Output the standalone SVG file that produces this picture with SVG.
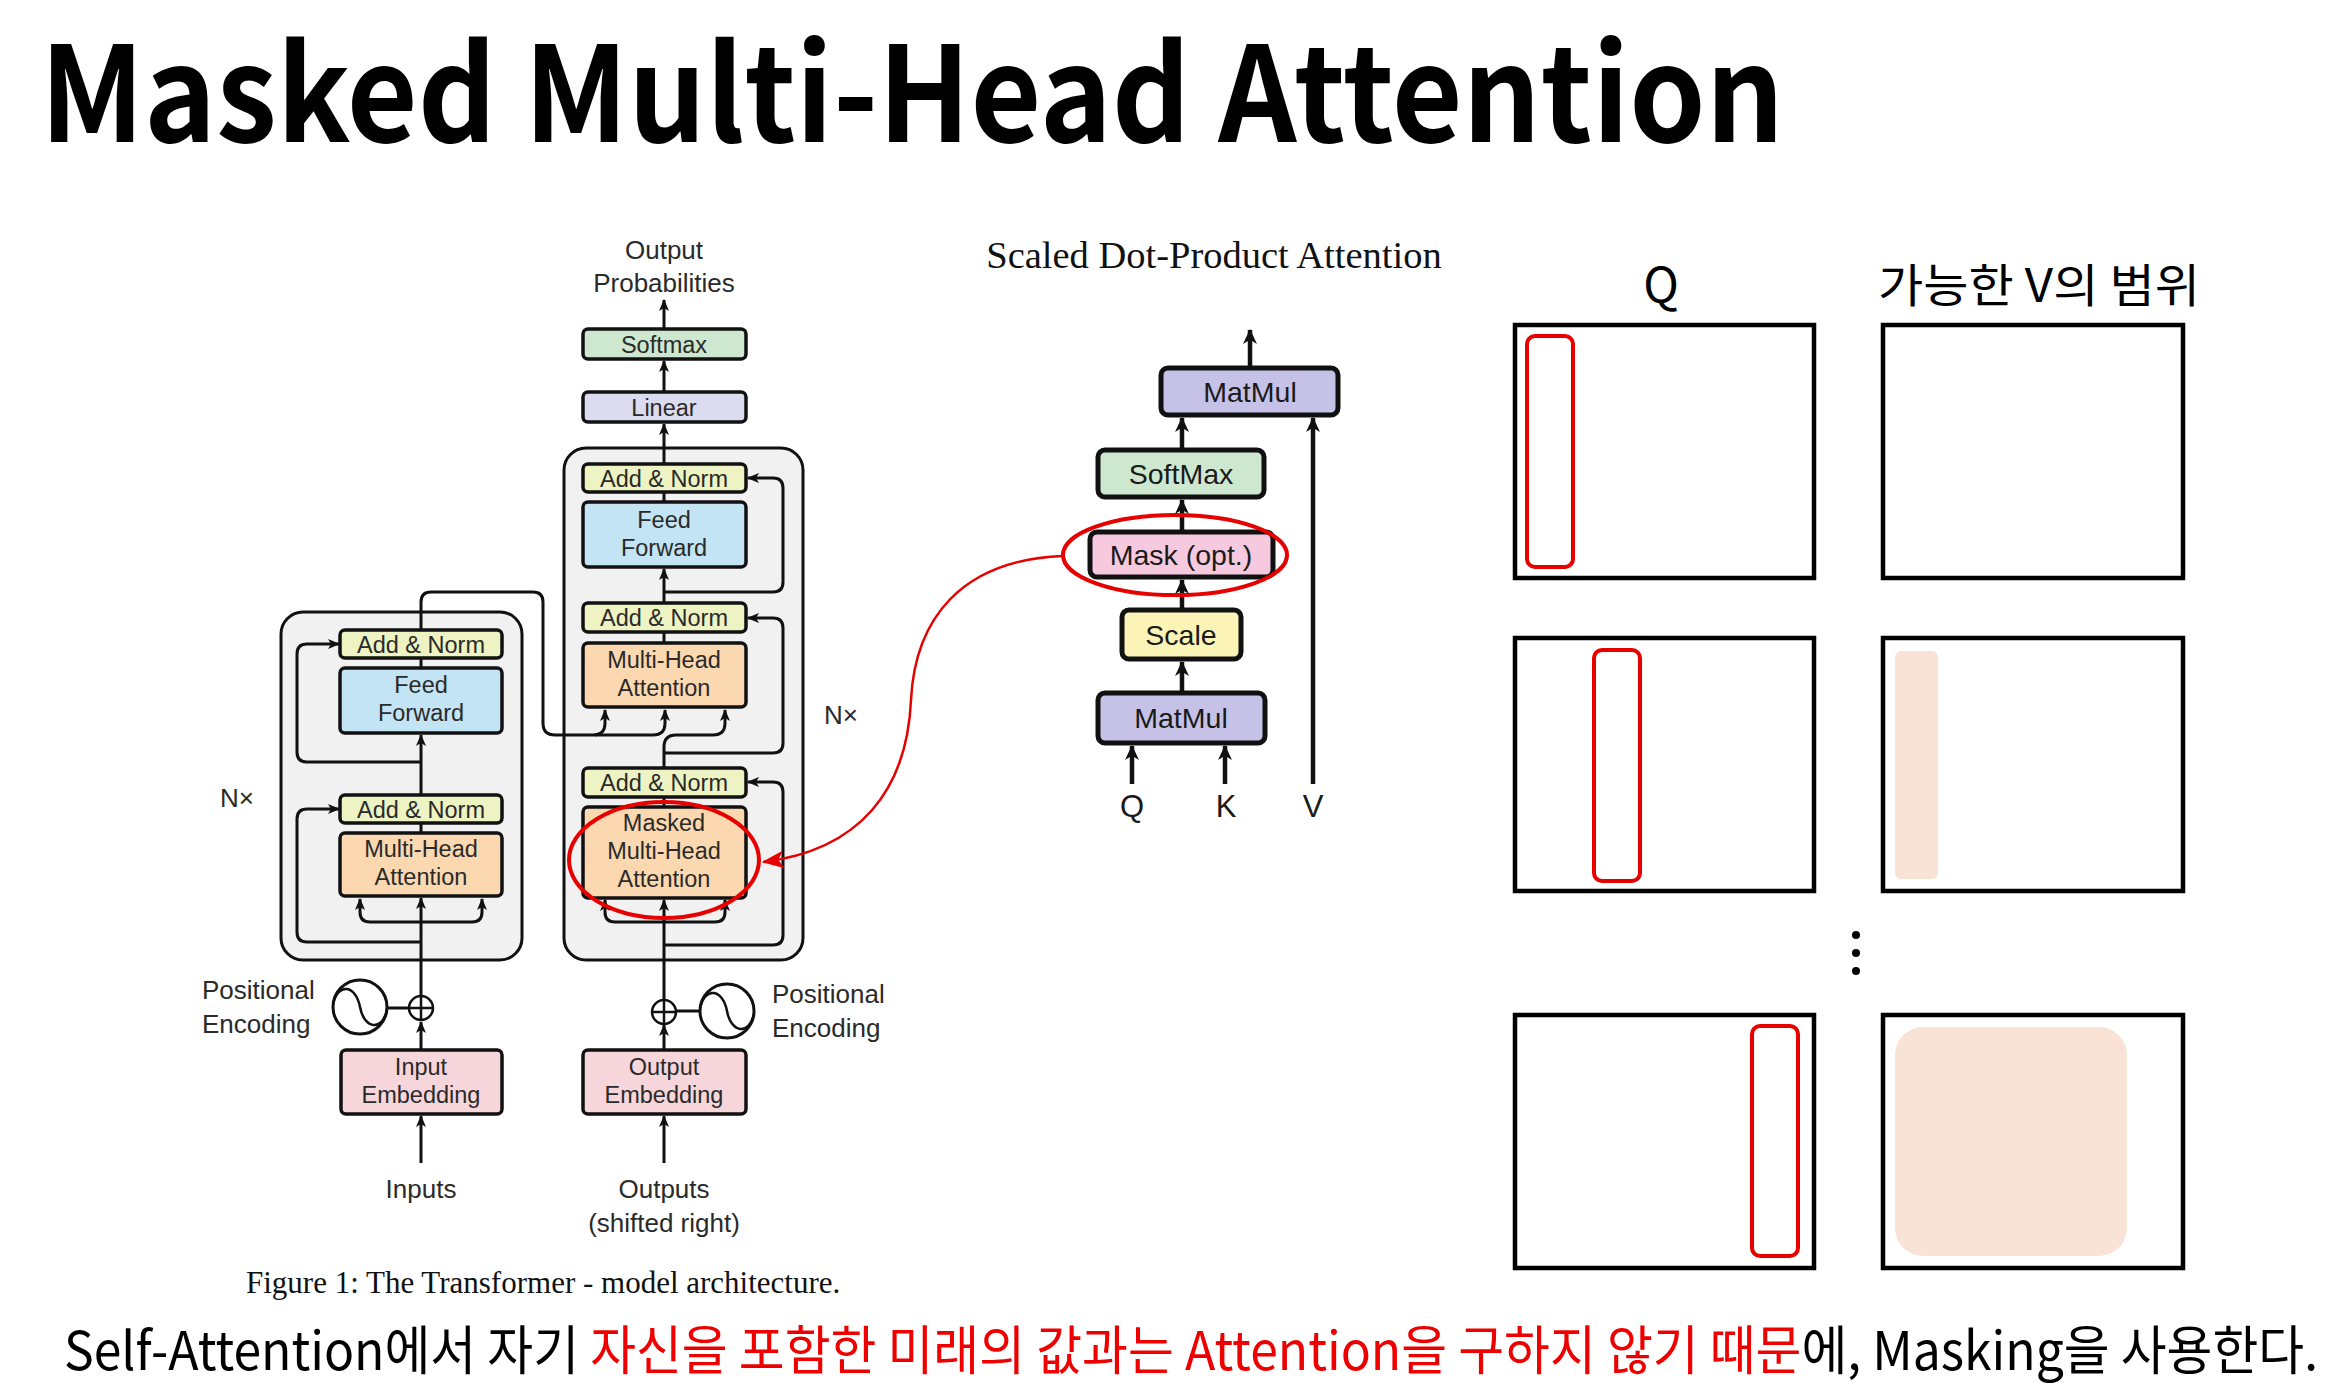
<svg xmlns="http://www.w3.org/2000/svg" width="2345" height="1385" viewBox="0 0 2345 1385">
  <defs>
    <marker id="ah" viewBox="0 0 12 10" refX="11" refY="5" markerWidth="12" markerHeight="10" markerUnits="userSpaceOnUse" orient="auto-start-reverse">
      <path d="M0,0 L12,5 L0,10 L3,5 Z" fill="#111"/>
    </marker>
    <marker id="ahb" viewBox="0 0 14 13" refX="13" refY="6.5" markerWidth="15" markerHeight="14" markerUnits="userSpaceOnUse" orient="auto-start-reverse">
      <path d="M0,0 L14,6.5 L0,13 L4,6.5 Z" fill="#111"/>
    </marker>
    <marker id="ahr" viewBox="0 0 20 16" refX="19" refY="8" markerWidth="22" markerHeight="18" markerUnits="userSpaceOnUse" orient="auto">
      <path d="M0,0 L20,8 L0,16 L5,8 Z" fill="#e60000"/>
    </marker>
  </defs>
  <style>
    .stack{fill:#f1f1f1;stroke:#111;stroke-width:3}
    .box{stroke:#111;stroke-width:3.5}
    .bbox{stroke:#111;stroke-width:5}
    .an{fill:#eef3c3}
    .ff{fill:#c3e4f4}
    .mha{fill:#fbd8b0}
    .emb{fill:#f7d6db}
    .lin{fill:#dcdcf0}
    .smx{fill:#cde8cf}
    .mm{fill:#c6c1e6}
    .mask{fill:#f6c9de}
    .scl{fill:#fbf4b6}
    .t{font-family:"Liberation Sans",Arial,Helvetica,sans-serif;font-size:23.5px;fill:#2a2a2a;text-anchor:middle}
    .lbl{font-family:"Liberation Sans",Arial,Helvetica,sans-serif;font-size:26px;fill:#2a2a2a}
    .qkv{font-family:"Liberation Sans",Arial,Helvetica,sans-serif;font-size:31px;fill:#1a1a1a;text-anchor:middle}
    .mid{text-anchor:middle}
    .bt{font-family:"Liberation Sans",Arial,Helvetica,sans-serif;font-size:28.5px;fill:#1a1a1a;text-anchor:middle}
    .serif{font-family:"Liberation Serif","Times New Roman",serif;fill:#111}
    .kr{font-family:"Noto Sans CJK KR","Noto Sans",sans-serif;fill:#000}
    .wire{fill:none;stroke:#111;stroke-width:3}
    .wireb{fill:none;stroke:#111;stroke-width:4.5}
    .arr{marker-end:url(#ah)}
    .arr2{marker-start:url(#ah);marker-end:url(#ah)}
    .arrb{marker-end:url(#ahb)}
    .grid{fill:#fff;stroke:#000;stroke-width:4.5}
    .sel{fill:none;stroke:#e60000;stroke-width:4}
    .range{fill:#f9e3d6}
    .red{fill:none;stroke:#e60000;stroke-width:4}
  </style>

  <rect width="2345" height="1385" fill="#fff"/>

  <!-- page title -->
  <text id="title" class="kr" x="40" y="142" font-size="132" font-weight="700" textLength="1744" lengthAdjust="spacingAndGlyphs">Masked Multi-Head Attention</text>

  <!-- encoder / decoder stacks -->
  <g id="encoder-stack"><rect class="stack" x="281" y="612" width="241" height="348" rx="22"/></g>
  <g id="decoder-stack"><rect class="stack" x="564" y="448" width="239" height="512" rx="22"/></g>

  <!-- connectors -->
  <g id="connectors">
    <!-- encoder -->
    <path class="wire arr" d="M421,1163 V1116"/>
    <path class="wire arr" d="M421,1050 V1022"/>
    <path class="wire arr" d="M421,996 V898"/>
    <path class="wire arr2" d="M360,899 V912 Q360,922 370,922 H472 Q482,922 482,912 V899"/>
    <path class="wire arr" d="M421,942 H307 Q297,942 297,932 V819 Q297,809 307,809 H339"/>
    <path class="wire" d="M421,833 V823"/>
    <path class="wire arr" d="M421,795 V735"/>
    <path class="wire arr" d="M421,762 H307 Q297,762 297,752 V654 Q297,644 307,644 H339"/>
    <path class="wire" d="M421,668 V658"/>
    <path class="wire arr" d="M421,630 V602 Q421,592 431,592 H533 Q543,592 543,602 V723 Q543,735 555,735 H593 Q605,735 605,723 V710"/>
    <path class="wire arr" d="M595,735 H653 Q665,735 665,723 V710"/>
    <path class="wire" d="M387,1008 H409"/>
    <!-- decoder -->
    <path class="wire arr" d="M664,1163 V1116"/>
    <path class="wire arr" d="M664,1050 V1025"/>
    <path class="wire arr" d="M664,999 V900"/>
    <path class="wire arr2" d="M605,900 V912 Q605,922 615,922 H715 Q725,922 725,912 V900"/>
    <path class="wire arr" d="M664,945 H773 Q783,945 783,935 V792 Q783,782 773,782 H748"/>
    <path class="wire" d="M664,807 V797"/>
    <path class="wire arr" d="M664,768 V747 Q664,735 676,735 H713 Q725,735 725,723 V710"/>
    <path class="wire arr" d="M664,753 H773 Q783,753 783,743 V628 Q783,618 773,618 H748"/>
    <path class="wire" d="M664,643 V632"/>
    <path class="wire arr" d="M664,603 V569"/>
    <path class="wire arr" d="M664,592 H773 Q783,592 783,582 V488 Q783,478 773,478 H748"/>
    <path class="wire" d="M664,502 V492"/>
    <path class="wire arr" d="M664,464 V424"/>
    <path class="wire arr" d="M664,392 V361"/>
    <path class="wire arr" d="M664,329 V300"/>
    <path class="wire" d="M676,1011 H700"/>
    <!-- scaled dot-product attention -->
    <path class="wireb arrb" d="M1250,368 V330"/>
    <path class="wireb arrb" d="M1182,450 V418"/>
    <path class="wireb arrb" d="M1182,532 V500"/>
    <path class="wireb arrb" d="M1182,610 V580"/>
    <path class="wireb arrb" d="M1182,693 V662"/>
    <path class="wireb arrb" d="M1132,784 V746"/>
    <path class="wireb arrb" d="M1225,784 V746"/>
    <path class="wireb arrb" d="M1313,784 V418"/>
  </g>

  <!-- encoder blocks -->
  <g id="enc-addnorm-2"><rect class="box an" x="340" y="630" width="162" height="28" rx="5"/><text class="t" x="421" y="652.5">Add &amp; Norm</text></g>
  <g id="enc-ffn"><rect class="box ff" x="340" y="668" width="162" height="65" rx="5"/><text class="t" x="421" y="693">Feed</text><text class="t" x="421" y="721">Forward</text></g>
  <g id="enc-addnorm-1"><rect class="box an" x="340" y="795" width="162" height="28" rx="5"/><text class="t" x="421" y="817.5">Add &amp; Norm</text></g>
  <g id="enc-mha"><rect class="box mha" x="340" y="833" width="162" height="63" rx="5"/><text class="t" x="421" y="857">Multi-Head</text><text class="t" x="421" y="885">Attention</text></g>
  <g id="enc-embedding"><rect class="box emb" x="341" y="1050" width="161" height="64" rx="5"/><text class="t" x="421" y="1075">Input</text><text class="t" x="421" y="1103">Embedding</text></g>
  <g id="enc-add"><circle cx="421" cy="1008" r="12" fill="#fff" stroke="#111" stroke-width="2.5"/><path d="M409,1008 H433 M421,996 V1020" stroke="#111" stroke-width="2.5"/></g>
  <g id="enc-posenc"><circle cx="360" cy="1007" r="27" fill="#fff" stroke="#111" stroke-width="3"/><path d="M333,1004 C338,982 356,985 360,1007 C364,1029 382,1032 387,1010" fill="none" stroke="#111" stroke-width="2.5"/></g>

  <!-- decoder blocks -->
  <g id="dec-addnorm-3"><rect class="box an" x="583" y="464" width="163" height="28" rx="5"/><text class="t" x="664" y="486.5">Add &amp; Norm</text></g>
  <g id="dec-ffn"><rect class="box ff" x="583" y="502" width="163" height="65" rx="5"/><text class="t" x="664" y="527.5">Feed</text><text class="t" x="664" y="555.5">Forward</text></g>
  <g id="dec-addnorm-2"><rect class="box an" x="583" y="603" width="163" height="29" rx="5"/><text class="t" x="664" y="626">Add &amp; Norm</text></g>
  <g id="dec-mha"><rect class="box mha" x="583" y="643" width="163" height="64" rx="5"/><text class="t" x="664" y="668">Multi-Head</text><text class="t" x="664" y="696">Attention</text></g>
  <g id="dec-addnorm-1"><rect class="box an" x="583" y="768" width="163" height="29" rx="5"/><text class="t" x="664" y="791">Add &amp; Norm</text></g>
  <g id="dec-masked-mha"><rect class="box mha" x="583" y="807" width="163" height="91" rx="5"/><text class="t" x="664" y="831">Masked</text><text class="t" x="664" y="859">Multi-Head</text><text class="t" x="664" y="887">Attention</text></g>
  <g id="dec-embedding"><rect class="box emb" x="583" y="1050" width="163" height="64" rx="5"/><text class="t" x="664" y="1075">Output</text><text class="t" x="664" y="1103">Embedding</text></g>
  <g id="dec-add"><circle cx="664" cy="1012" r="12" fill="#fff" stroke="#111" stroke-width="2.5"/><path d="M652,1012 H676 M664,1000 V1024" stroke="#111" stroke-width="2.5"/></g>
  <g id="dec-posenc"><circle cx="727" cy="1011" r="27" fill="#fff" stroke="#111" stroke-width="3"/><path d="M700,1008 C705,986 723,989 727,1011 C731,1033 749,1036 754,1014" fill="none" stroke="#111" stroke-width="2.5"/></g>
  <g id="linear"><rect class="box lin" x="583" y="392" width="163" height="30" rx="5"/><text class="t" x="664" y="415.5">Linear</text></g>
  <g id="softmax"><rect class="box smx" x="583" y="329" width="163" height="30" rx="5"/><text class="t" x="664" y="352.5">Softmax</text></g>

  <!-- figure labels -->
  <g id="labels">
    <text class="lbl mid" x="664" y="259">Output</text>
    <text class="lbl mid" x="664" y="292">Probabilities</text>
    <text class="lbl" x="220" y="807">N×</text>
    <text class="lbl" x="824" y="724">N×</text>
    <text class="lbl" x="202" y="999">Positional</text>
    <text class="lbl" x="202" y="1033">Encoding</text>
    <text class="lbl" x="772" y="1003">Positional</text>
    <text class="lbl" x="772" y="1037">Encoding</text>
    <text class="lbl mid" x="421" y="1198">Inputs</text>
    <text class="lbl mid" x="664" y="1198">Outputs</text>
    <text class="lbl mid" x="664" y="1232">(shifted right)</text>
    <text class="serif" x="246" y="1293" font-size="31">Figure 1: The Transformer - model architecture.</text>
  </g>

  <!-- scaled dot-product attention -->
  <text class="serif" x="1214" y="268" font-size="38.5" text-anchor="middle">Scaled Dot-Product Attention</text>
  <g id="sdpa-matmul-out"><rect class="bbox mm" x="1161" y="368" width="177" height="47" rx="7"/><text class="bt" x="1250" y="402">MatMul</text></g>
  <g id="sdpa-softmax"><rect class="bbox smx" x="1098" y="450" width="166" height="47" rx="7"/><text class="bt" x="1181" y="484">SoftMax</text></g>
  <g id="sdpa-mask"><rect class="bbox mask" x="1090" y="532" width="183" height="45" rx="7"/><text class="bt" x="1181" y="565">Mask (opt.)</text></g>
  <g id="sdpa-scale"><rect class="bbox scl" x="1122" y="610" width="119" height="49" rx="7"/><text class="bt" x="1181" y="645">Scale</text></g>
  <g id="sdpa-matmul-in"><rect class="bbox mm" x="1098" y="693" width="167" height="50" rx="7"/><text class="bt" x="1181" y="728">MatMul</text></g>
  <g id="sdpa-inputs">
    <text class="qkv" x="1132" y="817">Q</text>
    <text class="qkv" x="1226" y="817">K</text>
    <text class="qkv" x="1313" y="817">V</text>
  </g>

  <!-- highlight: mask step and the masked attention block -->
  <g id="highlight">
    <ellipse class="red" cx="1175" cy="555" rx="112" ry="40"/>
    <ellipse class="red" cx="664" cy="860" rx="95" ry="58"/>
    <path d="M1063,556 C960,560 915,620 911,700 C907,790 860,850 763,862" fill="none" stroke="#e60000" stroke-width="2.5" marker-end="url(#ahr)"/>
  </g>

  <!-- query position vs. reachable value range -->
  <g id="q-header"><text class="kr" x="1661" y="302" font-size="48" text-anchor="middle">Q</text></g>
  <g id="v-header"><text class="kr" x="2039" y="302" font-size="46" text-anchor="middle" textLength="322" lengthAdjust="spacingAndGlyphs">가능한 V의 범위</text></g>

  <g id="row-1">
    <rect class="grid" x="1515" y="325" width="299" height="253"/>
    <rect class="sel" x="1527" y="336" width="46" height="231" rx="8"/>
    <rect class="grid" x="1883" y="325" width="300" height="253"/>
  </g>
  <g id="row-2">
    <rect class="grid" x="1515" y="638" width="299" height="253"/>
    <rect class="sel" x="1594" y="650" width="46" height="231" rx="8"/>
    <rect class="grid" x="1883" y="638" width="300" height="253"/>
    <rect class="range" x="1895" y="651" width="43" height="228" rx="6"/>
  </g>
  <g id="ellipsis">
    <circle cx="1856" cy="935" r="4" fill="#000"/>
    <circle cx="1856" cy="953" r="4" fill="#000"/>
    <circle cx="1856" cy="971" r="4" fill="#000"/>
  </g>
  <g id="row-n">
    <rect class="grid" x="1515" y="1015" width="299" height="253"/>
    <rect class="sel" x="1752" y="1026" width="46" height="230" rx="8"/>
    <rect class="grid" x="1883" y="1015" width="300" height="253"/>
    <rect class="range" x="1895" y="1027" width="232" height="229" rx="28"/>
  </g>

  <!-- summary sentence -->
  <text id="summary" class="kr" x="64" y="1370" font-size="53" textLength="2254" lengthAdjust="spacingAndGlyphs">Self-Attention에서 자기 <tspan fill="#ee0000">자신을 포함한 미래의 값과는 Attention을 구하지 않기 때문</tspan>에, Masking을 사용한다.</text>
</svg>
